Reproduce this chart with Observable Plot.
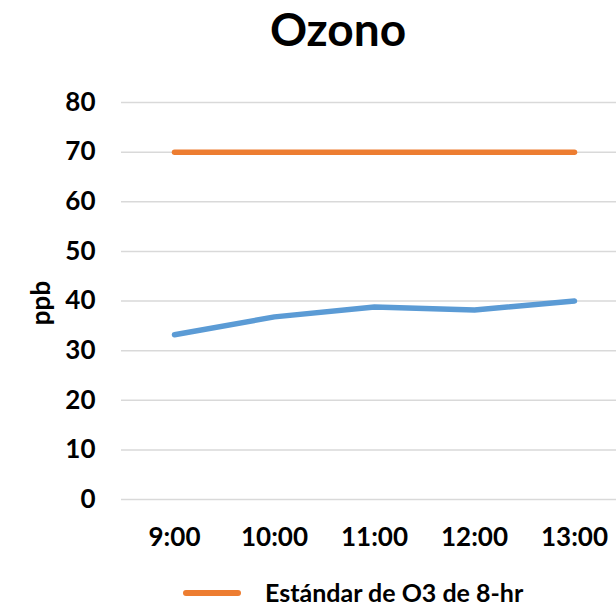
<!DOCTYPE html>
<html>
<head>
<meta charset="utf-8">
<script src="https://cdn.jsdelivr.net/npm/d3@7"></script>
<script src="https://cdn.jsdelivr.net/npm/@observablehq/plot@0.6"></script>
<style>
  html, body { margin: 0; padding: 0; background: #fff; }
  #wrap { position: relative; width: 616px; height: 606px; overflow: hidden; font-family: Lato, "Open Sans", sans-serif; }
  #title { position: absolute; top: 6px; left: 338px; transform: translateX(-50%); font-size: 46px; line-height: 1; font-weight: 700; color: #000; white-space: nowrap; }
  #ylabel { position: absolute; left: 40px; top: 303px; transform: translate(-50%, -50%) rotate(-90deg); font-size: 26px; line-height: 1; font-weight: 700; color: #000; white-space: nowrap; }
  #legend { position: absolute; top: 580px; left: 183px; height: 24px; display: flex; align-items: center; font-size: 25px; line-height: 24px; font-weight: 700; color: #000; white-space: nowrap; }
  #legend .swatch { width: 58px; height: 6px; border-radius: 3px; background: #ed7d31; margin-right: 24px; margin-top: 2px; }
  #chart { position: absolute; left: 0; top: 0; }
</style>
</head>
<body>
<div id="wrap">
  <div id="chart"></div>
  <div id="title">Ozono</div>
  <div id="ylabel">ppb</div>
  <div id="legend"><div class="swatch"></div><span>Estándar de O3 de 8-hr</span></div>
</div>
<script>
const hours = ["9:00", "10:00", "11:00", "12:00", "13:00"];
const ozone = [33.2, 36.8, 38.8, 38.2, 40.0];
const standard = [70, 70, 70, 70, 70];
const yTicks = [0, 10, 20, 30, 40, 50, 60, 70, 80];

const ozoneData = hours.map((h, i) => ({hour: h, value: ozone[i]}));
const standardData = hours.map((h, i) => ({hour: h, value: standard[i]}));

const chart = Plot.plot({
  width: 616,
  height: 606,
  marginLeft: 121,
  marginRight: 0,
  marginTop: 102,
  marginBottom: 107,
  style: {fontFamily: "Lato, 'Open Sans', sans-serif", fontSize: "26px", fontWeight: "700", color: "#000", background: "transparent"},
  x: {type: "point", domain: hours, range: [172, 575], padding: 0, label: null},
  y: {domain: [0, 80], label: null},
  marks: [
    Plot.ruleY(yTicks, {stroke: "#d9d9d9", strokeWidth: 1.5}),
    Plot.axisY({ticks: yTicks, tickSize: 0, tickPadding: 26, label: null, fontSize: 26, fontWeight: 700}),
    Plot.axisX({tickSize: 0, tickPadding: 28, label: null, fontSize: 26, fontWeight: 700}),
    Plot.line(standardData, {x: "hour", y: "value", stroke: "#ed7d31", strokeWidth: 5.5, strokeLinecap: "round"}),
    Plot.line(ozoneData, {x: "hour", y: "value", stroke: "#5b9bd5", strokeWidth: 5.5, strokeLinecap: "round", strokeLinejoin: "round"})
  ]
});
document.getElementById("chart").appendChild(chart);
</script>
</body>
</html>
